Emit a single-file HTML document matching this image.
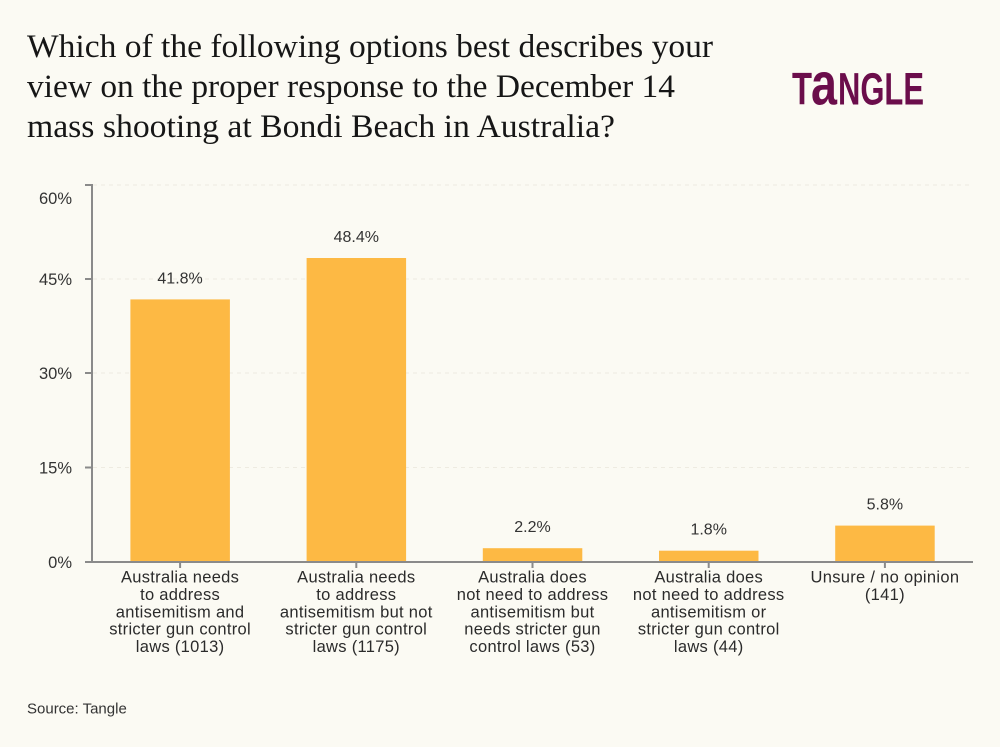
<!DOCTYPE html>
<html>
<head>
<meta charset="utf-8">
<style>
html,body{margin:0;padding:0;background:#fbfaf3;}
svg{display:block;}
</style>
</head>
<body>
<svg width="1000" height="747" viewBox="0 0 1000 747" xmlns="http://www.w3.org/2000/svg">
<rect width="1000" height="747" fill="#fbfaf3"/>
<!-- Title -->
<g font-family="'Liberation Serif', serif" font-size="33" fill="#161616">
<text x="27" y="57" textLength="686" lengthAdjust="spacingAndGlyphs">Which of the following options best describes your</text>
<text x="27" y="97" textLength="648" lengthAdjust="spacingAndGlyphs">view on the proper response to the December 14</text>
<text x="27" y="137" textLength="588" lengthAdjust="spacingAndGlyphs">mass shooting at Bondi Beach in Australia?</text>
</g>
<!-- Logo -->
<g font-family="'Liberation Sans', sans-serif" font-weight="bold" fill="#6b0d4b">
<text x="792" y="104.5" font-size="45" textLength="20" lengthAdjust="spacingAndGlyphs">T</text>
<text x="811" y="104.5" font-size="60" textLength="26" lengthAdjust="spacingAndGlyphs">a</text>
<text x="838" y="104.5" font-size="45" textLength="86" lengthAdjust="spacingAndGlyphs">NGLE</text>
</g>
<!-- Gridlines -->
<g stroke="#eeebe1" stroke-width="1" stroke-dasharray="4,4">
<line x1="93" y1="185" x2="973" y2="185"/>
<line x1="93" y1="279" x2="973" y2="279"/>
<line x1="93" y1="373" x2="973" y2="373"/>
<line x1="93" y1="467.5" x2="973" y2="467.5"/>
</g>
<!-- Bars -->
<g fill="#fdb944">
<rect x="130.4" y="299.4" width="99.5" height="262.6"/>
<rect x="306.6" y="258" width="99.5" height="304"/>
<rect x="482.8" y="548.2" width="99.5" height="13.8"/>
<rect x="659" y="550.7" width="99.5" height="11.3"/>
<rect x="835.2" y="525.6" width="99.5" height="36.4"/>
</g>
<!-- Axes -->
<g stroke="#8a8a8a" stroke-width="2" fill="none">
<line x1="92" y1="184" x2="92" y2="563"/>
<line x1="85" y1="185" x2="92" y2="185"/>
<line x1="85" y1="279" x2="92" y2="279"/>
<line x1="85" y1="373" x2="92" y2="373"/>
<line x1="85" y1="467.5" x2="92" y2="467.5"/>
<line x1="85" y1="562" x2="973" y2="562"/>
<line x1="180.1" y1="562" x2="180.1" y2="568"/>
<line x1="356.3" y1="562" x2="356.3" y2="568"/>
<line x1="532.5" y1="562" x2="532.5" y2="568"/>
<line x1="708.7" y1="562" x2="708.7" y2="568"/>
<line x1="884.9" y1="562" x2="884.9" y2="568"/>
</g>
<!-- Y tick labels -->
<g font-family="'Liberation Sans', sans-serif" font-size="16.5" fill="#333" text-anchor="end">
<text x="72" y="204">60%</text>
<text x="72" y="285">45%</text>
<text x="72" y="379">30%</text>
<text x="72" y="473.5">15%</text>
<text x="72" y="568">0%</text>
</g>
<!-- Value labels -->
<g font-family="'Liberation Sans', sans-serif" font-size="16" fill="#333" text-anchor="middle">
<text x="180.1" y="283.4">41.8%</text>
<text x="356.3" y="242">48.4%</text>
<text x="532.5" y="532.2">2.2%</text>
<text x="708.7" y="534.7">1.8%</text>
<text x="884.9" y="509.6">5.8%</text>
</g>
<!-- X labels -->
<g font-family="'Liberation Sans', sans-serif" font-size="16.5" letter-spacing="0.3" fill="#2b2b2b" text-anchor="middle">
<text x="180.1" y="582.7">Australia needs</text>
<text x="180.1" y="600">to address</text>
<text x="180.1" y="617.3">antisemitism and</text>
<text x="180.1" y="634.6">stricter gun control</text>
<text x="180.1" y="651.9">laws (1013)</text>

<text x="356.3" y="582.7">Australia needs</text>
<text x="356.3" y="600">to address</text>
<text x="356.3" y="617.3">antisemitism but not</text>
<text x="356.3" y="634.6">stricter gun control</text>
<text x="356.3" y="651.9">laws (1175)</text>

<text x="532.5" y="582.7">Australia does</text>
<text x="532.5" y="600">not need to address</text>
<text x="532.5" y="617.3">antisemitism but</text>
<text x="532.5" y="634.6">needs stricter gun</text>
<text x="532.5" y="651.9">control laws (53)</text>

<text x="708.7" y="582.7">Australia does</text>
<text x="708.7" y="600">not need to address</text>
<text x="708.7" y="617.3">antisemitism or</text>
<text x="708.7" y="634.6">stricter gun control</text>
<text x="708.7" y="651.9">laws (44)</text>

<text x="884.9" y="582.7">Unsure / no opinion</text>
<text x="884.9" y="600">(141)</text>
</g>
<!-- Source -->
<text x="27" y="713.3" font-family="'Liberation Sans', sans-serif" font-size="15" fill="#333">Source: Tangle</text>
</svg>
</body>
</html>
